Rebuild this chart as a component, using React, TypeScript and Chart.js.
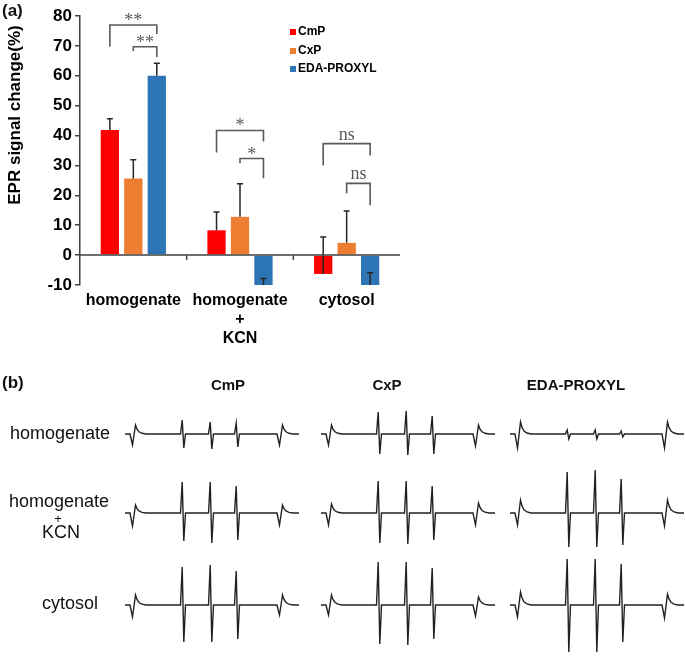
import React, { useEffect, useRef } from 'react';
import { Chart, registerables } from 'chart.js';

Chart.register(...registerables);

const SANS = "'Liberation Sans', Arial, Helvetica, sans-serif";
const SERIF = "'Liberation Serif', 'Times New Roman', serif";

// ---------- Panel (a) data ----------
const categories = [['homogenate'], ['homogenate', '+', 'KCN'], ['cytosol']];
const seriesNames = ['CmP', 'CxP', 'EDA-PROXYL'];
const seriesColors = ['#FF0000', '#ED7D31', '#2E75B6'];
const cmpValues = [41.9, 8.3, -6.3];
const cxpValues = [25.6, 12.8, 4.1];
const edaValues = [60.0, -15.0, -14.0];
const cmpErrors = [3.7, 6.1, 12.4];
const cxpErrors = [6.3, 11.1, 10.7];
const edaErrors = [4.2, 7.2, 8.1];
const yMin = -10;
const yMax = 80;
const yStep = 10;
const yTitle = 'EPR signal change(%)';

// significance brackets (category, from series, to series, heights in % units)
const bracketCategory = [0, 0, 1, 1, 2, 2];
const bracketFrom = [0, 1, 0, 1, 0, 1];
const bracketTo = [2, 2, 2, 2, 2, 2];
const bracketTop = [77.0, 69.7, 41.7, 32.3, 37.3, 24.0];
const bracketLeftEnd = [69.7, 68.3, 34.3, 30.7, 30.0, 20.7];
const bracketRightEnd = [74.0, 66.3, 38.0, 25.7, 33.3, 16.7];
const bracketLabel = ['**', '**', '*', '*', 'ns', 'ns'];

// ---------- Panel (b) data ----------
const spectrumColumns = ['CmP', 'CxP', 'EDA-PROXYL'];
const spectrumRows = ['homogenate', 'homogenate + KCN', 'cytosol'];
// field positions of the 5 lines (2 outer marker lines + 3 nitroxide lines)
const lineFields = [9, 58, 86, 112, 156];
const fieldEnd = 174;
// amplitudes of positive / negative lobes for each line
const cmpHomogenateUp = [9, 14, 12, 11, 9];
const cmpHomogenateDown = [11, 14, 15, 13, 11];
const cxpHomogenateUp = [9, 22, 23, 18, 9];
const cxpHomogenateDown = [11, 20, 21, 20, 12];
const edaHomogenateUp = [12, 4, 4, 3, 12];
const edaHomogenateDown = [14, 5, 5, 3, 14];
const cmpKcnUp = [8, 31, 31, 27, 8];
const cmpKcnDown = [13, 28, 30, 27, 12];
const cxpKcnUp = [9, 32, 32, 27, 10];
const cxpKcnDown = [12, 30, 31, 27, 12];
const edaKcnUp = [13, 41, 43, 34, 13];
const edaKcnDown = [12, 34, 34, 32, 13];
const cmpCytosolUp = [10, 38, 40, 34, 10];
const cmpCytosolDown = [12, 37, 37, 34, 10];
const cxpCytosolUp = [10, 43, 43, 37, 8];
const cxpCytosolDown = [10, 39, 40, 34, 11];
const edaCytosolUp = [13, 46, 46, 41, 11];
const edaCytosolDown = [12, 47, 47, 37, 13];
// line shapes (field offsets and relative amplitude, + uses Up, - uses Down)
const markerOffsets = [-4, -1.5, 1.5, 3, 5, 8, 12];
const markerShape = [0, -1, 1, 0.55, 0.25, 0.08, 0];
const lineOffsets = [-2.5, -0.8, 0.8, 2.5];
const lineShape = [0, 1, -1, 0];

const seriesValues = [cmpValues, cxpValues, edaValues];
const seriesErrors = [cmpErrors, cxpErrors, edaErrors];

const panelUp = [
  [cmpHomogenateUp, cxpHomogenateUp, edaHomogenateUp],
  [cmpKcnUp, cxpKcnUp, edaKcnUp],
  [cmpCytosolUp, cxpCytosolUp, edaCytosolUp],
];
const panelDown = [
  [cmpHomogenateDown, cxpHomogenateDown, edaHomogenateDown],
  [cmpKcnDown, cxpKcnDown, edaKcnDown],
  [cmpCytosolDown, cxpCytosolDown, edaCytosolDown],
];

function buildTrace(up: number[], down: number[]) {
  const pts: { x: number; y: number }[] = [{ x: 0, y: 0 }];
  lineFields.forEach((c, i) => {
    const marker = i === 0 || i === lineFields.length - 1;
    const offs = marker ? markerOffsets : lineOffsets;
    const shape = marker ? markerShape : lineShape;
    offs.forEach((dx, k) => {
      const s = shape[k];
      pts.push({ x: c + dx, y: s >= 0 ? s * up[i] : s * down[i] });
    });
  });
  pts.push({ x: fieldEnd, y: 0 });
  return pts;
}

const decorPlugin = {
  id: 'decor',
  afterDatasetsDraw(chart: any) {
    const { ctx, chartArea, scales } = chart;
    const x = scales.x;
    const y = scales.y;
    // error bars
    ctx.save();
    ctx.beginPath();
    ctx.rect(chartArea.left, chartArea.top, chartArea.right - chartArea.left, chartArea.bottom - chartArea.top);
    ctx.clip();
    ctx.strokeStyle = '#262626';
    ctx.lineWidth = 1.5;
    seriesErrors.forEach((errs, di) => {
      const meta = chart.getDatasetMeta(di);
      meta.data.forEach((bar: any, j: number) => {
        const v = seriesValues[di][j];
        const e = errs[j];
        const y0 = y.getPixelForValue(v);
        const y1 = y.getPixelForValue(v + e);
        ctx.beginPath();
        ctx.moveTo(bar.x, y0);
        ctx.lineTo(bar.x, y1);
        ctx.moveTo(bar.x - 3, y1);
        ctx.lineTo(bar.x + 3, y1);
        ctx.stroke();
      });
    });
    ctx.restore();

    // zero axis line with category separators
    ctx.save();
    const y0 = y.getPixelForValue(0);
    ctx.strokeStyle = '#404040';
    ctx.lineWidth = 1.5;
    ctx.beginPath();
    ctx.moveTo(chartArea.left, y0);
    ctx.lineTo(chartArea.right, y0);
    for (let i = 0; i < categories.length - 1; i++) {
      const xb = (x.getPixelForValue(i) + x.getPixelForValue(i + 1)) / 2;
      ctx.moveTo(xb, y0);
      ctx.lineTo(xb, y0 + 5);
    }
    ctx.stroke();
    ctx.restore();

    // significance brackets
    ctx.save();
    ctx.strokeStyle = '#595959';
    ctx.fillStyle = '#595959';
    ctx.lineWidth = 1.6;
    ctx.font = `18px ${SERIF}`;
    ctx.textAlign = 'center';
    ctx.textBaseline = 'alphabetic';
    bracketLabel.forEach((lab, k) => {
      const c = bracketCategory[k];
      const xa = chart.getDatasetMeta(bracketFrom[k]).data[c].x;
      const xb = chart.getDatasetMeta(bracketTo[k]).data[c].x;
      const yt = y.getPixelForValue(bracketTop[k]);
      ctx.beginPath();
      ctx.moveTo(xa, y.getPixelForValue(bracketLeftEnd[k]));
      ctx.lineTo(xa, yt);
      ctx.lineTo(xb, yt);
      ctx.lineTo(xb, y.getPixelForValue(bracketRightEnd[k]));
      ctx.stroke();
      const ty = lab === 'ns' ? yt - 4 : yt + 1;
      ctx.fillText(lab, (xa + xb) / 2, ty);
    });
    ctx.restore();

    // legend
    ctx.save();
    ctx.font = `bold 12px ${SANS}`;
    ctx.textBaseline = 'middle';
    ctx.textAlign = 'left';
    const legendX = 290;
    const legendY = [32, 51, 69];
    seriesNames.forEach((name, i) => {
      ctx.fillStyle = seriesColors[i];
      ctx.fillRect(legendX, legendY[i] - 3, 6, 6);
      ctx.fillStyle = '#000';
      ctx.fillText(name, legendX + 8, legendY[i]);
    });
    ctx.restore();

    // y-axis title
    ctx.save();
    ctx.translate(15, 115);
    ctx.rotate(-Math.PI / 2);
    ctx.font = `bold 17px ${SANS}`;
    ctx.fillStyle = '#000';
    ctx.textAlign = 'center';
    ctx.textBaseline = 'middle';
    ctx.fillText(yTitle, 0, 0);
    ctx.restore();
  },
};

function Label(props: { text: string; x: number; y: number; size: number; bold?: boolean; align?: 'left' | 'center' }) {
  const { text, x, y, size, bold, align } = props;
  const w = 300;
  const left = align === 'center' ? x - w / 2 : x;
  return (
    <div
      style={{
        position: 'absolute',
        left,
        top: y - size / 2,
        width: w,
        textAlign: align === 'center' ? 'center' : 'left',
        fontFamily: SANS,
        fontSize: size,
        lineHeight: `${size}px`,
        fontWeight: bold ? 700 : 400,
        color: '#111',
        whiteSpace: 'nowrap',
        zIndex: 2,
      }}
    >
      {text}
    </div>
  );
}

function Spectrum(props: { left: number; baseline: number; up: number[]; down: number[] }) {
  const ref = useRef<HTMLCanvasElement>(null);
  const { left, baseline, up, down } = props;
  useEffect(() => {
    const chart = new Chart(ref.current as HTMLCanvasElement, {
      type: 'line',
      data: {
        datasets: [
          {
            data: buildTrace(up, down),
            borderColor: '#222',
            borderWidth: 1.4,
            pointRadius: 0,
            tension: 0,
            fill: false,
          },
        ],
      },
      options: {
        responsive: false,
        animation: false,
        layout: { padding: 0 },
        plugins: { legend: { display: false }, tooltip: { enabled: false } },
        scales: {
          x: { type: 'linear', display: false, min: 0, max: 175 },
          y: { type: 'linear', display: false, min: -50, max: 50 },
        },
      },
    });
    return () => chart.destroy();
  }, []);
  return (
    <canvas
      ref={ref}
      width={175}
      height={100}
      style={{ position: 'absolute', left, top: baseline - 50, width: 175, height: 100, zIndex: 1 }}
    />
  );
}

const columnLeft = [125, 321, 510];
const rowBaseline = [434, 513, 605];

export default function App() {
  const barRef = useRef<HTMLCanvasElement>(null);
  useEffect(() => {
    const chart = new Chart(barRef.current as HTMLCanvasElement, {
      type: 'bar',
      data: {
        labels: categories,
        datasets: seriesNames.map((name, i) => ({
          label: name,
          data: seriesValues[i],
          backgroundColor: seriesColors[i],
          borderWidth: 0,
          barPercentage: 0.78,
          categoryPercentage: 0.66,
        })),
      },
      options: {
        responsive: false,
        animation: false,
        layout: { padding: { top: 16, left: 0, right: 0, bottom: 0 } },
        plugins: { legend: { display: false }, tooltip: { enabled: false } },
        scales: {
          x: {
            grid: { display: false, drawTicks: false },
            border: { display: false },
            ticks: {
              padding: 6,
              autoSkip: false,
              maxRotation: 0,
              color: '#000',
              font: { family: SANS, size: 16, weight: 'bold', lineHeight: 1.2 },
            },
            afterFit(scale: any) {
              scale.height = 65;
            },
          },
          y: {
            min: yMin,
            max: yMax,
            ticks: {
              stepSize: yStep,
              padding: 3,
              color: '#000',
              font: { family: SANS, size: 17, weight: 'bold' },
            },
            grid: { drawOnChartArea: false, drawTicks: true, tickLength: 5, color: '#404040', lineWidth: 1.5 },
            border: { display: true, color: '#404040', width: 1.5 },
            title: { display: false, text: yTitle },
            afterFit(scale: any) {
              scale.width = 80;
            },
          },
        },
      },
      plugins: [decorPlugin],
    });
    return () => chart.destroy();
  }, []);

  return (
    <div
      style={{
        position: 'absolute',
        left: 0,
        top: 0,
        width: 685,
        height: 657,
        background: '#fff',
        overflow: 'hidden',
        fontFamily: SANS,
      }}
    >
      <canvas ref={barRef} width={400} height={350} style={{ position: 'absolute', left: 0, top: 0, width: 400, height: 350 }} />
      <Label text="(a)" x={2} y={10} size={17} bold />
      <Label text="(b)" x={2} y={382} size={17} bold />
      <Label text={spectrumColumns[0]} x={228} y={384} size={15} bold align="center" />
      <Label text={spectrumColumns[1]} x={387} y={384} size={15} bold align="center" />
      <Label text={spectrumColumns[2]} x={576} y={384} size={15} bold align="center" />
      <Label text={spectrumRows[0]} x={10} y={433} size={18} />
      <Label text="homogenate" x={59} y={501} size={18} align="center" />
      <Label text="+" x={58} y={518} size={13} align="center" />
      <Label text="KCN" x={61} y={532} size={18} align="center" />
      <Label text={spectrumRows[2]} x={70} y={603} size={18} align="center" />
      {rowBaseline.map((b, r) =>
        columnLeft.map((l, c) => (
          <Spectrum key={`${r}-${c}`} left={l} baseline={b} up={panelUp[r][c]} down={panelDown[r][c]} />
        ))
      )}
    </div>
  );
}
